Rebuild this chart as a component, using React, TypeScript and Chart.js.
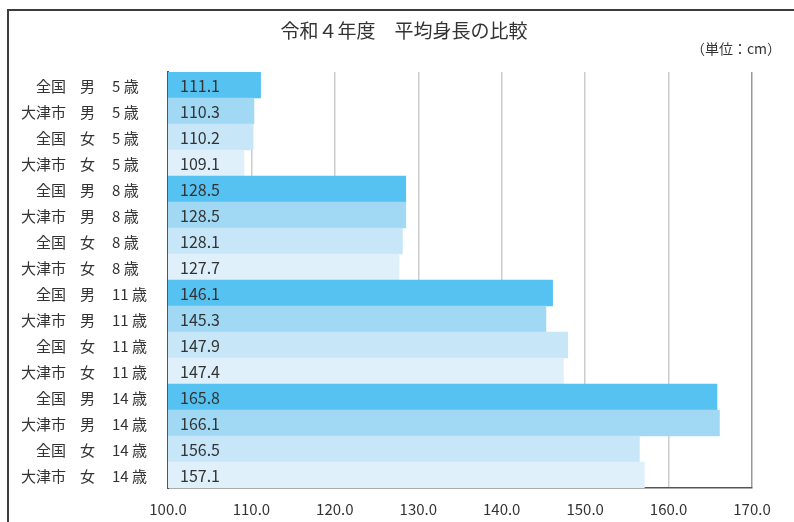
import React, { useEffect, useRef } from "react";
import { Chart, registerables } from "chart.js";

Chart.register(...registerables);

const regions = ["全国", "大津市", "全国", "大津市", "全国", "大津市", "全国", "大津市", "全国", "大津市", "全国", "大津市", "全国", "大津市", "全国", "大津市"];
const sexes = ["男", "男", "女", "女", "男", "男", "女", "女", "男", "男", "女", "女", "男", "男", "女", "女"];
const ages = ["5 歳", "5 歳", "5 歳", "5 歳", "8 歳", "8 歳", "8 歳", "8 歳", "11 歳", "11 歳", "11 歳", "11 歳", "14 歳", "14 歳", "14 歳", "14 歳"];
const heights = [111.1, 110.3, 110.2, 109.1, 128.5, 128.5, 128.1, 127.7, 146.1, 145.3, 147.9, 147.4, 165.8, 166.1, 156.5, 157.1];
const shades = ["#56c2f1", "#a1d9f5", "#c7e6f7", "#dff0fa"];
const title = "令和４年度　平均身長の比較";
const unitLabel = "（単位：cm）";

const FONT = '"Noto Sans CJK JP", "Noto Sans", sans-serif';

export default function App() {
  const ref = useRef<HTMLCanvasElement | null>(null);

  useEffect(() => {
    const canvas = ref.current;
    if (!canvas) return;

    const decor = {
      id: "decor",
      beforeDraw(chart: any) {
        const ctx = chart.ctx;
        ctx.save();
        ctx.fillStyle = "#ffffff";
        ctx.fillRect(0, 0, chart.width, chart.height);
        ctx.strokeStyle = "#3c3c3c";
        ctx.lineWidth = 2;
        ctx.beginPath();
        ctx.moveTo(8, chart.height + 5);
        ctx.lineTo(8, 10);
        ctx.lineTo(chart.width + 5, 10);
        ctx.stroke();
        ctx.fillStyle = "#333333";
        ctx.textBaseline = "middle";
        ctx.textAlign = "center";
        ctx.font = `19px ${FONT}`;
        ctx.fillText(title, 404, 31);
        ctx.textAlign = "right";
        ctx.font = `14px ${FONT}`;
        ctx.fillText(unitLabel, 781, 49);
        ctx.restore();
      },
      afterDatasetsDraw(chart: any) {
        const ctx = chart.ctx;
        const xs = chart.scales.x;
        const ys = chart.scales.y;
        const meta = chart.getDatasetMeta(0);
        ctx.save();
        ctx.fillStyle = "#333333";
        ctx.textBaseline = "middle";
        const x0 = xs.getPixelForValue(xs.min);
        ctx.font = `16px ${FONT}`;
        meta.data.forEach((bar: any, i: number) => {
          ctx.textAlign = "left";
          ctx.fillText(heights[i].toFixed(1), x0 + 12, bar.y + 1);
        });
        ctx.font = `15px ${FONT}`;
        regions.forEach((r, i) => {
          const y = ys.getPixelForValue(i) + 1;
          ctx.textAlign = "right";
          ctx.fillText(r, 66, y);
          ctx.textAlign = "left";
          ctx.fillText(sexes[i], 80, y);
          ctx.fillText(ages[i], 112, y);
        });
        ctx.restore();
      },
    };

    const chart = new Chart(canvas, {
      type: "bar",
      data: {
        labels: regions.map((r, i) => `${r}　${sexes[i]}　${ages[i]}`),
        datasets: [
          {
            data: heights,
            backgroundColor: heights.map((_, i) => shades[i % 4]),
            borderWidth: 0,
            barPercentage: 1,
            categoryPercentage: 1,
          },
        ],
      },
      options: {
        indexAxis: "y",
        animation: false,
        responsive: false,
        maintainAspectRatio: false,
        layout: { padding: { left: 168, right: 42, top: 72, bottom: 0 } },
        plugins: {
          legend: { display: false },
          title: { display: false },
          tooltip: { enabled: false },
        },
        scales: {
          x: {
            min: 100,
            max: 170,
            afterFit: (scale: any) => {
              scale.height = 34;
            },
            ticks: {
              stepSize: 10,
              padding: 12,
              color: "#333333",
              font: { family: FONT, size: 15 },
              callback: (v: any) => Number(v).toFixed(1),
            },
            grid: {
              drawTicks: false,
              color: (c: any) => (c.tick && c.tick.value === 170 ? "#9a9a9a" : "#cccccc"),
              lineWidth: 1.5,
            },
            border: { display: true, color: "#555555", width: 1.5 },
          },
          y: {
            ticks: { display: false },
            grid: { display: false, drawTicks: false },
            border: { display: true, color: "#555555", width: 2 },
          },
        },
      },
      plugins: [decor],
    } as any);

    return () => chart.destroy();
  }, []);

  return (
    <div style={{ position: "fixed", left: 0, top: 0, width: 794, height: 522 }}>
      <canvas ref={ref} width={794} height={522} style={{ width: 794, height: 522, display: "block" }} />
    </div>
  );
}
